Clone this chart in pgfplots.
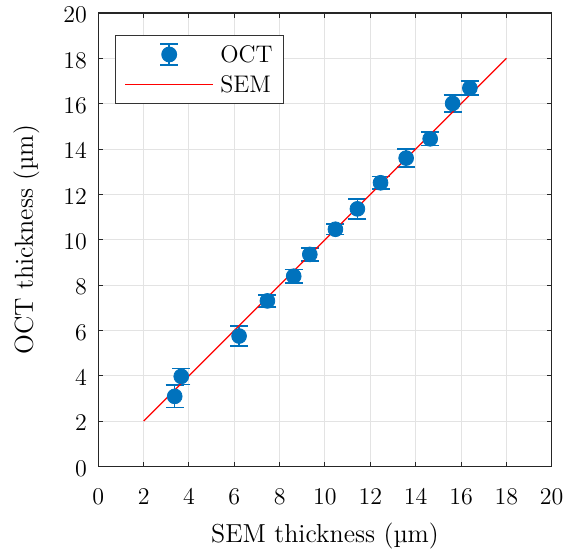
\documentclass[border=0pt]{standalone}
\usepackage{pgfplots}
\pgfplotsset{compat=1.18}
\definecolor{mblue}{rgb}{0,0.447,0.741}
\begin{document}
\begin{tikzpicture}
\begin{axis}[
  name=ax,
  scale only axis,
  width=226.7pt, height=226.7pt,
  xmin=0, xmax=20, ymin=0, ymax=20,
  xtick={0,2,...,20}, ytick={0,2,...,20},
  tick align=inside, tick pos=both,
  major tick length=2.3pt,
  grid=major,
  major grid style={gray!22, line width=0.5pt},
  axis line style={line width=0.6pt, black!85},
  every tick/.style={black!85, line width=0.5pt},
  tick label style={font=\fontsize{12}{14}\selectfont},
  xticklabel style={anchor=base, inner sep=0pt, yshift=-18.9pt},
  yticklabel style={anchor=east, inner sep=0pt, xshift=-5.5pt, yshift=-1pt},
  label style={font=\fontsize{13}{15}\selectfont, inner sep=0pt},
  xlabel={SEM thickness (µm)},
  ylabel={OCT thickness (µm)},
  xlabel style={at={([yshift=-38.2pt]axis description cs:0.5,0)}, anchor=base},
  ylabel style={at={([xshift=-32.7pt]axis description cs:0,0.5)}, anchor=base},
  legend style={at={([shift={(8.2pt,-11pt)}]rel axis cs:0,1)}, anchor=north west,
    draw=black!80, line width=0.5pt,
    font=\fontsize{12}{14}\selectfont, inner xsep=0pt, inner ysep=2pt,
    nodes={inner sep=0pt, text depth=0pt}, row sep=0pt},
  legend cell align=left,
]
\addplot[only marks, mark=*, mark size=3.7pt, color=mblue, mark options={draw=none, fill=mblue},
  error bars/.cd, y dir=both, y explicit,
  error bar style={line width=0.75pt, mblue},
  error mark options={rotate=90, mark size=4.5pt, line width=0.75pt, mblue}]
  [legend image code/.code={
     \path[draw=none, fill=none] (0pt,-7.5pt) rectangle (52.6pt,7.5pt);
     \draw[mblue, line width=0.75pt] (27pt,-5.25pt) -- (27pt,5.25pt);
     \draw[mblue, line width=0.75pt] (22.5pt,-5.25pt) -- (31.5pt,-5.25pt);
     \draw[mblue, line width=0.75pt] (22.5pt,5.25pt) -- (31.5pt,5.25pt);
     \fill[mblue] (27pt,0pt) circle (3.7pt);
  }]
  table[y error=e] {
x y e
3.37 3.09 0.50
3.66 3.97 0.35
6.21 5.75 0.45
7.46 7.30 0.27
8.62 8.39 0.30
9.33 9.35 0.28
10.46 10.46 0.23
11.43 11.36 0.44
12.45 12.51 0.27
13.58 13.60 0.40
14.64 14.45 0.30
15.63 16.01 0.38
16.39 16.69 0.30
};
\addlegendentry{OCT\rule{5.5pt}{0pt}}
\addplot[red, line width=0.6pt]
  [legend image code/.code={
     \path[draw=none, fill=none] (0pt,-7.5pt) rectangle (52.6pt,7.5pt);
     \draw[red, line width=0.6pt] (5pt,0pt) -- (49pt,0pt);}]
  coordinates {(2,2) (18,18)};
\addlegendentry{SEM\rule{5.5pt}{0pt}}
\end{axis}
\pgfresetboundingbox
\path[use as bounding box] ([shift={(-49.15pt,-44.35pt)}]ax.south west) rectangle ([shift={(11.65pt,6.5pt)}]ax.north east);
\end{tikzpicture}
\end{document}
